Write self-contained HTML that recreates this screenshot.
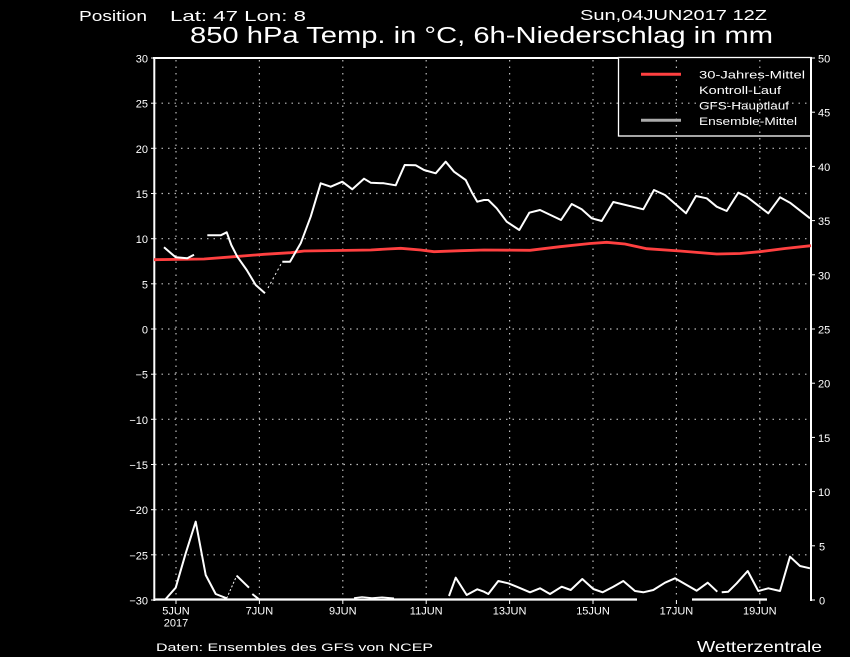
<!DOCTYPE html>
<html><head><meta charset="utf-8"><style>
html,body{margin:0;padding:0;background:#000;}
svg{display:block;}
text{font-family:"Liberation Sans",sans-serif;fill:#fff;}
</style></head><body>
<svg width="850" height="657" viewBox="0 0 850 657" xmlns="http://www.w3.org/2000/svg">
<rect width="850" height="657" fill="#000"/>
<!-- header -->
<text x="79" y="21" font-size="15" textLength="68" lengthAdjust="spacingAndGlyphs">Position</text>
<text x="170" y="21" font-size="15" textLength="136" lengthAdjust="spacingAndGlyphs">Lat: 47 Lon: 8</text>
<text x="580" y="20" font-size="15" textLength="187" lengthAdjust="spacingAndGlyphs">Sun,04JUN2017 12Z</text>
<text x="190" y="43" font-size="23" textLength="583" lengthAdjust="spacingAndGlyphs">850 hPa Temp. in °C, 6h-Niederschlag in mm</text>

<!-- grid -->
<g stroke="#bbb" stroke-width="1.2" stroke-dasharray="1.5,5" fill="none">
<line x1="155" y1="103.2" x2="810" y2="103.2"/>
<line x1="155" y1="148.3" x2="810" y2="148.3"/>
<line x1="155" y1="193.5" x2="810" y2="193.5"/>
<line x1="155" y1="238.7" x2="810" y2="238.7"/>
<line x1="155" y1="283.8" x2="810" y2="283.8"/>
<line x1="155" y1="329" x2="810" y2="329"/>
<line x1="155" y1="374.2" x2="810" y2="374.2"/>
<line x1="155" y1="419.3" x2="810" y2="419.3"/>
<line x1="155" y1="464.5" x2="810" y2="464.5"/>
<line x1="155" y1="509.7" x2="810" y2="509.7"/>
<line x1="155" y1="554.8" x2="810" y2="554.8"/>
<line x1="176" y1="60" x2="176" y2="599"/>
<line x1="259.4" y1="60" x2="259.4" y2="599"/>
<line x1="342.8" y1="60" x2="342.8" y2="599"/>
<line x1="426.2" y1="60" x2="426.2" y2="599"/>
<line x1="509.6" y1="60" x2="509.6" y2="599"/>
<line x1="593" y1="60" x2="593" y2="599"/>
<line x1="676.4" y1="60" x2="676.4" y2="599"/>
<line x1="759.8" y1="60" x2="759.8" y2="599"/>
</g>

<!-- axes -->
<g stroke="#fff" fill="none">
<line x1="154.3" y1="57" x2="154.3" y2="601" stroke-width="2"/>
<line x1="153" y1="58" x2="619" y2="58" stroke-width="2"/>
<line x1="811" y1="57" x2="811" y2="601" stroke-width="2"/>
<rect x="618.5" y="57.5" width="192.5" height="78.5" stroke-width="1.3"/>
<line x1="154" y1="599.5" x2="637" y2="599.5" stroke-width="2.2"/>
<line x1="692" y1="599.5" x2="767" y2="599.5" stroke-width="2.2"/>
<!-- left ticks -->
<g stroke-width="1">
<line x1="151" y1="58" x2="154" y2="58"/>
<line x1="151" y1="103.2" x2="154" y2="103.2"/>
<line x1="151" y1="148.3" x2="154" y2="148.3"/>
<line x1="151" y1="193.5" x2="154" y2="193.5"/>
<line x1="151" y1="238.7" x2="154" y2="238.7"/>
<line x1="151" y1="283.8" x2="154" y2="283.8"/>
<line x1="151" y1="329" x2="154" y2="329"/>
<line x1="151" y1="374.2" x2="154" y2="374.2"/>
<line x1="151" y1="419.3" x2="154" y2="419.3"/>
<line x1="151" y1="464.5" x2="154" y2="464.5"/>
<line x1="151" y1="509.7" x2="154" y2="509.7"/>
<line x1="151" y1="554.8" x2="154" y2="554.8"/>
<line x1="151" y1="600" x2="154" y2="600"/>
<!-- right ticks -->
<line x1="811" y1="58" x2="815" y2="58"/>
<line x1="811" y1="112.2" x2="815" y2="112.2"/>
<line x1="811" y1="166.4" x2="815" y2="166.4"/>
<line x1="811" y1="220.6" x2="815" y2="220.6"/>
<line x1="811" y1="274.8" x2="815" y2="274.8"/>
<line x1="811" y1="329" x2="815" y2="329"/>
<line x1="811" y1="383.2" x2="815" y2="383.2"/>
<line x1="811" y1="437.4" x2="815" y2="437.4"/>
<line x1="811" y1="491.6" x2="815" y2="491.6"/>
<line x1="811" y1="545.8" x2="815" y2="545.8"/>
<line x1="811" y1="600" x2="815" y2="600"/>
<!-- bottom ticks -->
<line x1="176" y1="600" x2="176" y2="604"/>
<line x1="259.4" y1="600" x2="259.4" y2="604"/>
<line x1="342.8" y1="600" x2="342.8" y2="604"/>
<line x1="426.2" y1="600" x2="426.2" y2="604"/>
<line x1="509.6" y1="600" x2="509.6" y2="604"/>
<line x1="593" y1="600" x2="593" y2="604"/>
<line x1="676.4" y1="600" x2="676.4" y2="604"/>
<line x1="759.8" y1="600" x2="759.8" y2="604"/>
</g>
</g>

<!-- left labels -->
<g font-size="11" text-anchor="end">
<text x="148" y="62.5">30</text>
<text x="148" y="107.7">25</text>
<text x="148" y="152.8">20</text>
<text x="148" y="198">15</text>
<text x="148" y="243.2">10</text>
<text x="148" y="288.3">5</text>
<text x="148" y="333.5">0</text>
<text x="148" y="378.7">−5</text>
<text x="148" y="423.8">−10</text>
<text x="148" y="469">−15</text>
<text x="148" y="514.2">−20</text>
<text x="148" y="559.3">−25</text>
<text x="148" y="604.5">−30</text>
</g>
<!-- right labels -->
<g font-size="11">
<text x="818" y="62.5">50</text>
<text x="818" y="116.7">45</text>
<text x="818" y="170.9">40</text>
<text x="818" y="225.1">35</text>
<text x="818" y="279.3">30</text>
<text x="818" y="333.5">25</text>
<text x="818" y="387.7">20</text>
<text x="818" y="441.9">15</text>
<text x="818" y="496.1">10</text>
<text x="819" y="550.3">5</text>
<text x="819" y="604.5">0</text>
</g>
<!-- x labels -->
<g font-size="11" text-anchor="middle">
<text x="176" y="614.5">5JUN</text>
<text x="176" y="626.5">2017</text>
<text x="259.4" y="614.5">7JUN</text>
<text x="342.8" y="614.5">9JUN</text>
<text x="426.2" y="614.5">11JUN</text>
<text x="509.6" y="614.5">13JUN</text>
<text x="593" y="614.5">15JUN</text>
<text x="676.4" y="614.5">17JUN</text>
<text x="759.8" y="614.5">19JUN</text>
</g>

<!-- legend -->
<line x1="641" y1="74.3" x2="681" y2="74.3" stroke="#ff4040" stroke-width="3"/>
<line x1="641" y1="120.3" x2="681" y2="120.3" stroke="#aaaaaa" stroke-width="3"/>
<g font-size="11">
<text x="699" y="78.5" textLength="106" lengthAdjust="spacingAndGlyphs">30-Jahres-Mittel</text>
<text x="699" y="94" textLength="82" lengthAdjust="spacingAndGlyphs">Kontroll-Lauf</text>
<text x="699" y="109.5" textLength="90" lengthAdjust="spacingAndGlyphs">GFS-Hauptlauf</text>
<text x="699" y="125" textLength="98" lengthAdjust="spacingAndGlyphs">Ensemble-Mittel</text>
</g>

<!-- red climatology line -->
<polyline fill="none" stroke="#ff4040" stroke-width="2.8" points="154,259.7 204,259 234,256.7 264,254.3 290.7,252.7 304,251 370.7,250 387.3,249 400.7,248.3 420.7,250 434,251.7 460.7,250.7 484,250 530,250.3 560,246.7 590,243.5 606.7,242.3 625,244 646.7,248.7 680,251 716.7,254 740,253.5 760,251.7 785,248.5 811,245.7"/>

<!-- temperature -->
<g fill="none" stroke="#fff" stroke-width="2" stroke-linejoin="round">
<polyline points="164,247.3 175.7,257.3 187.3,258.3 194,254.7"/>
<polyline points="207.3,235.3 220.7,235.3 226.7,232.3 231.3,245 237.3,256.7 246.7,270 255.7,285 265,293.3"/>
<polyline points="282.3,261.7 290,261.7 300.7,243.3 310.7,216.7 320.7,183.3 330.7,186.7 342.3,181.7 352.3,189.3 364,178.7 370.7,182.7 384,183.3 395.7,185.3 404.7,165 415.7,165.3 424,170 435.7,173.3 445.7,161.7 454,171.7 465.7,180 472.3,193.3 477.3,201.7 484,200 488.3,200 496.7,208.3 506.7,221.7 519.3,230 529.3,212.7 540,210 561,220 571.7,204 581.7,209.3 591.7,218.3 601.7,221 613.3,202 643.3,209.3 654,190 665,195 686,213.3 696,196 706.7,198.3 716.7,206.7 726.7,211 738.3,192.7 746.7,196.7 768.3,213.3 780,197.3 790,202.7 810,218.3"/>
<line x1="268" y1="288" x2="282.3" y2="261.7" stroke-width="1" stroke-dasharray="2,3"/>
</g>

<!-- precipitation -->
<g fill="none" stroke="#fff" stroke-width="2" stroke-linejoin="round">
<polyline points="165.7,599 175.7,587.7 185.7,553.3 195.7,521.7 205.7,575 215.7,594 226.7,598.3"/>
<line x1="226.7" y1="598.3" x2="236.7" y2="575.7" stroke-width="1" stroke-dasharray="2,2"/>
<polyline points="236.7,575.7 249,587.7"/>
<polyline points="252.3,594 259,599.3"/>
<polyline points="354,598 362,597 372,598 382,597.3 394,598.3" stroke-width="1.5"/>
<polyline points="449,596 455.7,577.7 466.7,595 477.3,589.3 484,591.7 488.3,594 498.3,581 508.3,583.3 516.7,586.7 530,592.3 540,588.3 550,594 561.7,586.7 570.7,590 582.3,579 593.3,589 602.7,592.3 613.3,586.7 623.3,581 635,591 643.3,592.3 653.3,590 665,582.7 675,578.3 686.7,585 696.7,590.7 707.7,582.7 717.3,591.7"/>
<polyline points="721.7,592.3 728.3,591.7 736.7,583.3 747.7,571 758.3,591 768.3,588.3 780,591 790,556.7 800,566 810,568.3"/>
</g>

<!-- footer -->
<text x="156" y="651" font-size="11" textLength="277" lengthAdjust="spacingAndGlyphs">Daten: Ensembles des GFS von NCEP</text>
<text x="697" y="652" font-size="16" textLength="125" lengthAdjust="spacingAndGlyphs">Wetterzentrale</text>
</svg>
</body></html>
